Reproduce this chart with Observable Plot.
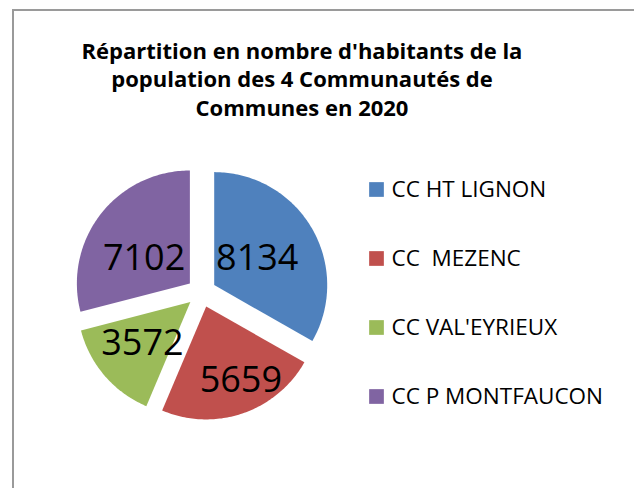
<!DOCTYPE html>
<html><head><meta charset="utf-8">
<script src="https://cdn.jsdelivr.net/npm/d3@7"></script>
<script src="https://cdn.jsdelivr.net/npm/@observablehq/plot@0.6"></script>
<style>
html,body{margin:0;padding:0;background:#fff;}
#frame{position:relative;width:634px;height:488px;overflow:hidden;background:#fff;}
#box{position:absolute;left:12px;top:9px;width:700px;height:600px;border-left:2px solid #9a9a9a;border-top:2px solid #9a9a9a;}
.title{position:absolute;font-family:"Open Sans";font-weight:bold;font-size:22px;line-height:1;color:#000;white-space:nowrap;transform:translateX(-50%);}
.layer{position:absolute;left:0;top:0;}
svg text{white-space:pre;}
</style></head><body>
<div id="frame"><div id="box"></div>
<div id="titles"></div>
<div id="pie" class="layer"></div>
<div id="legend" class="layer" style="left:360px;top:160px"></div>
</div>
<script>
const titleLines = ["Répartition en nombre d'habitants de la", "population des 4 Communautés de", "Communes en 2020"];
const names = ["CC HT LIGNON", "CC  MEZENC", "CC VAL'EYRIEUX", "CC P MONTFAUCON"];
const values = [8134, 5659, 3572, 7102];
const colors = ["#4F81BD", "#C0504D", "#9BBB59", "#8064A2"];

// layout
const CX = 201, CY = 292, R = 113, EXPLODE = 0.13;
// label placement ("best fit"): distance from slice apex (fraction of radius) and angular nudge (degrees)
const labelFit = [[0.45, -2], [0.72, -6.5], [0.56, 0], [0.46, -9.5]];
const titleX = 302, titleTop = [39, 67, 96];

const tdiv = document.getElementById("titles");
titleLines.forEach((t, i) => {
  const d = document.createElement("div");
  d.className = "title";
  d.style.left = titleX + "px";
  d.style.top = titleTop[i] + "px";
  d.textContent = t;
  tdiv.appendChild(d);
});

const data = names.map((name, i) => ({name, value: values[i]}));
const arcs = d3.pie().sort(null).value(d => d.value)(data);
const pts = [], labels = [];
arcs.forEach((a, k) => {
  const name = a.data.name;
  const mid = (a.startAngle + a.endAngle) / 2;
  const ox = EXPLODE * Math.sin(mid), oy = EXPLODE * Math.cos(mid);
  pts.push({name, x: ox, y: oy});
  const n = Math.ceil((a.endAngle - a.startAngle) / (Math.PI / 180));
  for (let i = 0; i <= n; i++) {
    const t = a.startAngle + (a.endAngle - a.startAngle) * i / n;
    pts.push({name, x: ox + Math.sin(t), y: oy + Math.cos(t)});
  }
  const [f, da] = labelFit[k];
  const la = mid + da * Math.PI / 180;
  labels.push({name, value: a.data.value, x: ox + f * Math.sin(la), y: oy + f * Math.cos(la)});
});

const pie = Plot.plot({
  width: 634, height: 488, margin: 0,
  x: {domain: [-1, 1], range: [CX - R, CX + R], axis: null},
  y: {domain: [-1, 1], range: [CY + R, CY - R], axis: null},
  color: {domain: names, range: colors},
  marks: [
    Plot.line(pts, {x: "x", y: "y", z: "name", fill: "name", stroke: "none", curve: "linear-closed"}),
    Plot.text(labels, {x: "x", y: "y", text: d => String(d.value), fontSize: 36, fontFamily: "Open Sans", fill: "black"})
  ]
});
document.getElementById("pie").appendChild(pie);

const legend = Plot.plot({
  width: 274, height: 260, margin: 0,
  x: {domain: [0, 1], range: [16, 116], axis: null},
  y: {type: "point", domain: names, range: [28.5, 235.5], padding: 0, axis: null},
  color: {domain: names, range: colors},
  marks: [
    Plot.dot(names, {x: () => 0, y: d => d, symbol: "square", r: 8.3, fill: d => d, stroke: "none"}),
    Plot.text(names, {x: () => 0, y: d => d, text: d => d, dx: 15, textAnchor: "start", fontSize: 22.5, fontFamily: "Open Sans", fill: "black"})
  ]
});
document.getElementById("legend").appendChild(legend);
</script>
</body></html>
